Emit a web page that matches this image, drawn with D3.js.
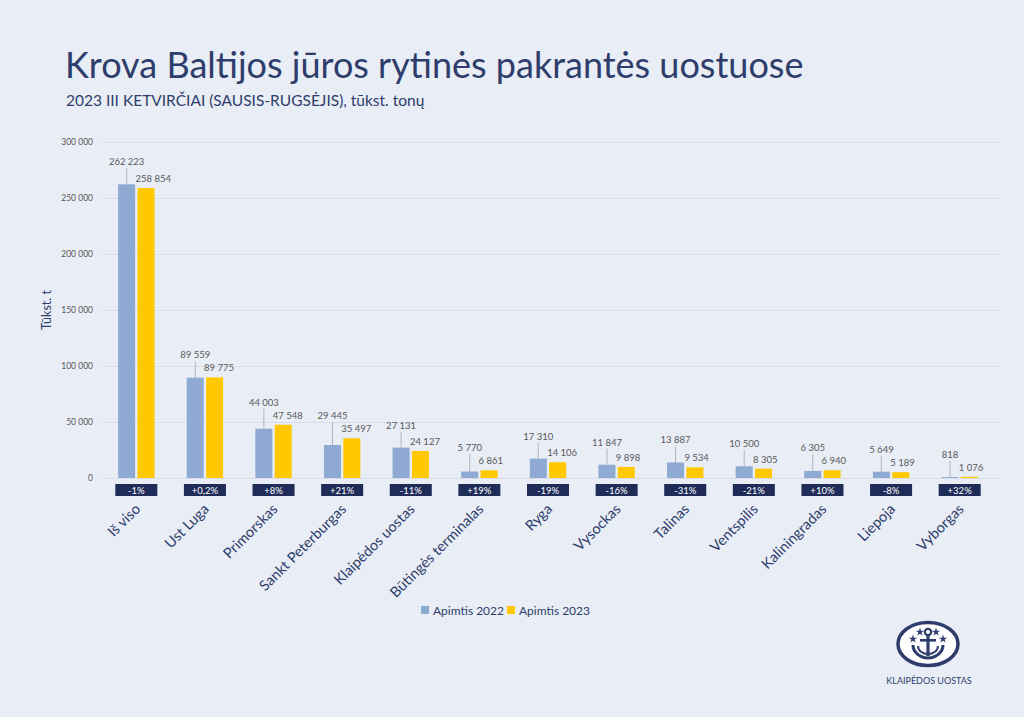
<!DOCTYPE html>
<html>
<head>
<meta charset="utf-8">
<script src="https://cdn.jsdelivr.net/npm/d3@7"></script>
<style>
  body { margin: 0; background: #e9edf5; }
  svg { display: block; font-family: Lato, "Open Sans", sans-serif; }
</style>
</head>
<body>
<svg id="chart" width="1024" height="717"></svg>
<script>
const categories = ["Iš viso", "Ust Luga", "Primorskas", "Sankt Peterburgas", "Klaipėdos uostas",
  "Būtingės terminalas", "Ryga", "Vysockas", "Talinas", "Ventspilis", "Kaliningradas", "Liepoja", "Vyborgas"];
const values2022 = [262223, 89559, 44003, 29445, 27131, 5770, 17310, 11847, 13887, 10500, 6305, 5649, 818];
const values2023 = [258854, 89775, 47548, 35497, 24127, 6861, 14106, 9898, 9534, 8305, 6940, 5189, 1076];
const changeLabels = ["-1%", "+0,2%", "+8%", "+21%", "-11%", "+19%", "-19%", "-16%", "-31%", "-21%", "+10%", "-8%", "+32%"];
const seriesNames = ["Apimtis 2022", "Apimtis 2023"];
const yTicks = [0, 50000, 100000, 150000, 200000, 250000, 300000];

const navy = "#2e3d6b";
const boxColor = "#1f2c58";
const blue = "#8eaad3";
const yellow = "#ffc800";
const grey = "#595959";

const fmt = d3.formatLocale({ decimal: ",", thousands: "\u00a0", grouping: [3], currency: ["", ""] }).format(",d");

const svg = d3.select("#chart");

svg.append("rect").attr("width", 1024).attr("height", 717).attr("fill", "#e9edf5");

// titles
svg.append("text")
  .attr("x", 65).attr("y", 78)
  .attr("font-size", 36)
  .attr("fill", navy)
  .text("Krova Baltijos jūros rytinės pakrantės uostuose");

svg.append("text")
  .attr("x", 66).attr("y", 106)
  .attr("font-size", 15.5)
  .attr("fill", navy)
  .text("2023 III KETVIRČIAI (SAUSIS-RUGSĖJIS), tūkst. tonų");

// scales
const y = d3.scaleLinear().domain([0, 300000]).range([478, 142]);
const x0 = d3.scaleBand().domain(categories).range([102, 994]).paddingInner(0.47).paddingOuter(0.235);
const x1 = d3.scaleBand().domain(seriesNames).range([0, x0.bandwidth()]).paddingInner(0.12);

// grid + y axis
const yAxis = svg.append("g")
  .attr("transform", "translate(102,0)")
  .call(d3.axisLeft(y).tickValues(yTicks).tickFormat(fmt).tickSize(-898).tickPadding(9));
yAxis.select(".domain").remove();
yAxis.selectAll(".tick line").attr("stroke", "#d8dde8").attr("stroke-width", 1);
yAxis.selectAll(".tick text").attr("fill", grey).attr("font-size", 8.5).attr("font-family", "Lato, sans-serif");

svg.append("text")
  .attr("transform", "translate(51,310) rotate(-90)")
  .attr("text-anchor", "middle")
  .attr("font-size", 12.5)
  .attr("fill", navy)
  .text("Tūkst. t");

// bars
const rows = categories.map((c, i) => ({ cat: c, v: [values2022[i], values2023[i]], change: changeLabels[i] }));

const groups = svg.selectAll("g.cat")
  .data(rows)
  .enter().append("g")
  .attr("class", "cat")
  .attr("transform", d => `translate(${x0(d.cat)},0)`);

groups.selectAll("rect.bar")
  .data(d => d.v.map((v, j) => ({ v: v, s: seriesNames[j] })))
  .enter().append("rect")
  .attr("class", "bar")
  .attr("x", d => x1(d.s))
  .attr("width", x1.bandwidth())
  .attr("y", d => y(d.v))
  .attr("height", d => y(0) - y(d.v))
  .attr("fill", (d, j) => j === 0 ? blue : yellow);

// value labels
groups.each(function (d) {
  const g = d3.select(this);
  const top22 = y(d.v[0]);
  const top23 = y(d.v[1]);
  const c22 = x1(seriesNames[0]) + x1.bandwidth() / 2;
  const left23 = x1(seriesNames[1]);
  const lab22 = Math.min(top22, top23) - 19;
  const lab23 = top23 - 6;

  g.append("line")
    .attr("x1", c22).attr("x2", c22)
    .attr("y1", lab22 + 3).attr("y2", top22)
    .attr("stroke", "#a6a6a6").attr("stroke-width", 0.8);

  g.append("text")
    .attr("x", c22).attr("y", lab22)
    .attr("text-anchor", "middle")
    .attr("font-size", 9.5).attr("fill", grey)
    .text(fmt(d.v[0]));

  g.append("text")
    .attr("x", left23 - 2).attr("y", lab23)
    .attr("font-size", 9.5).attr("fill", grey)
    .text(fmt(d.v[1]));
});

// change boxes
const bw = x0.bandwidth();
groups.append("rect")
  .attr("x", bw / 2 - 21).attr("y", 484)
  .attr("width", 42).attr("height", 12)
  .attr("fill", boxColor);

groups.append("text")
  .attr("x", bw / 2).attr("y", 493.5)
  .attr("text-anchor", "middle")
  .attr("font-size", 9.5).attr("fill", "#ffffff")
  .text(d => d.change);

// category labels
groups.append("text")
  .attr("transform", `translate(${bw / 2 + 5},510) rotate(-45)`)
  .attr("text-anchor", "end")
  .attr("font-size", 14.5)
  .attr("fill", navy)
  .text(d => d.cat);

// legend
const legend = svg.append("g").attr("transform", "translate(421,615)");
const legItems = legend.selectAll("g")
  .data(seriesNames)
  .enter().append("g")
  .attr("transform", (d, i) => `translate(${i * 86},0)`);
legItems.append("rect")
  .attr("x", 0).attr("y", -9).attr("width", 8).attr("height", 8)
  .attr("fill", (d, i) => i === 0 ? blue : yellow);
legItems.append("text")
  .attr("x", 12).attr("y", 0)
  .attr("font-size", 12).attr("fill", navy)
  .text(d => d);

// logo
const logo = svg.append("g").attr("transform", "translate(928,644)");
logo.append("ellipse").attr("rx", 30).attr("ry", 21.5)
  .attr("fill", "#ffffff").attr("stroke", navy).attr("stroke-width", 3.5);
logo.append("circle").attr("cx", 0).attr("cy", -12).attr("r", 3.2)
  .attr("fill", "none").attr("stroke", navy).attr("stroke-width", 2.2);
logo.append("rect").attr("x", -1.6).attr("y", -9).attr("width", 3.2).attr("height", 21).attr("fill", navy);
logo.append("rect").attr("x", -8).attr("y", -5).attr("width", 16).attr("height", 2.6).attr("fill", navy);
logo.append("path").attr("d", "M-15,1 A15,13 0 0 0 15,1")
  .attr("fill", "none").attr("stroke", navy).attr("stroke-width", 3);
logo.append("path").attr("d", "M-10,2 A10,8 0 0 0 10,2")
  .attr("fill", "none").attr("stroke", navy).attr("stroke-width", 2);
const star = d3.symbol(d3.symbolStar, 22);
[[-15, -5], [15, -5], [-8, -12], [8, -12]].forEach(p => {
  logo.append("path").attr("d", star()).attr("transform", `translate(${p[0]},${p[1]})`).attr("fill", navy);
});
svg.append("text")
  .attr("x", 929).attr("y", 684)
  .attr("text-anchor", "middle")
  .attr("font-size", 9).attr("fill", navy)
  .text("KLAIPĖDOS UOSTAS");
</script>
</body>
</html>
